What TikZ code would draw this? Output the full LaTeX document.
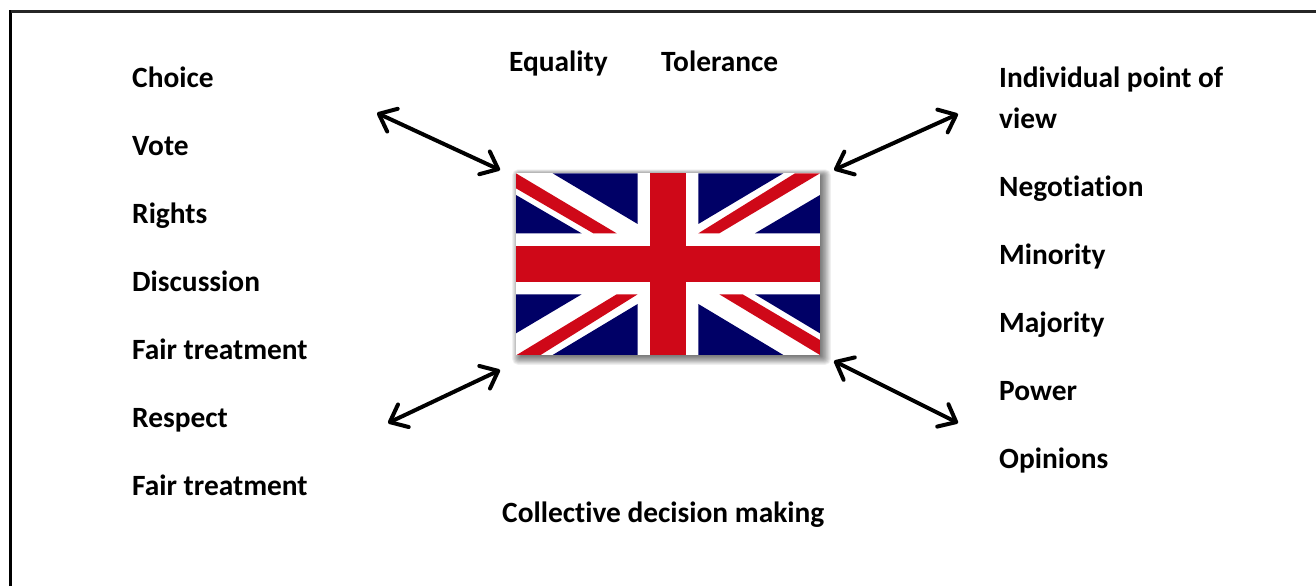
\documentclass[tikz,border=0pt]{standalone}
\usepackage{fontspec}
\setmainfont{Carlito}[Ligatures=NoCommon]
\usetikzlibrary{arrows.meta}
\definecolor{flagblue}{RGB}{0,0,102}
\definecolor{flagred}{RGB}{207,8,24}
\tikzset{
  lbl/.style={anchor=base west,inner sep=0pt,font=\fontsize{29.4}{29.4}\selectfont\bfseries,text=black},
  dbl/.style={line width=4pt,line cap=round,{Straight Barb[length=15pt,width=25pt,line width=4pt,round]}-{Straight Barb[length=15pt,width=25pt,line width=4pt,round]}},
  navy/.style={fill=flagblue},
  redbar/.style={fill=flagred}
}
\begin{document}
\begin{tikzpicture}[x=1pt,y=-1pt]
\useasboundingbox (0,0) rectangle (1316,586);
\fill[white] (0,0) rectangle (1316,586);
% frame
\coordinate (fa) at (10.5,586);
\coordinate (fb) at (10.5,11.5);
\coordinate (fc) at (1316,11.5);
\draw[line width=2.6pt,black] (fa) -- (10.5,10.3);
\draw[line width=2.2pt,black!85] (fb) -- (fc);
% left column
\node[lbl] (l1) at (132,87.7) {Choice};
\node[lbl] (l2) at (132,155.7) {Vote};
\node[lbl] (l3) at (132,223.7) {Rights};
\node[lbl] (l4) at (132,291.7) {Discussion};
\node[lbl] (l5) at (132,359.7) {Fair treatment};
\node[lbl] (l6) at (132,427.7) {Respect};
\node[lbl] (l7) at (132,495.7) {Fair treatment};
% top and bottom
\node[lbl] (t1) at (509,71.7) {Equality};
\node[lbl] (t2) at (661,71.7) {Tolerance};
\node[lbl] (b1) at (502,522.7) {Collective decision making};
% right column
\node[lbl] (r1) at (999,87.7) {Individual point of};
\node[lbl] (r1b) at (999,128.7) {view};
\node[lbl] (r2) at (999,196.7) {Negotiation};
\node[lbl] (r3) at (999,264.7) {Minority};
\node[lbl] (r4) at (999,332.7) {Majority};
\node[lbl] (r5) at (999,400.7) {Power};
\node[lbl] (r6) at (999,468.7) {Opinions};
% flag shadow
\foreach \i in {0,...,11}{
  \fill[black,opacity=0.055,rounded corners=\i*0.5pt] (521-\i*0.8,176-\i*0.6) rectangle (821+\i*0.9,356+\i*0.8);
}
% flag
\begin{scope}[shift={(500,160)},x=0.3333pt,y=-0.3333pt]
\fill[white] (48,40) rectangle (960,585);
\path[navy] (158,40)--(413,40)--(413,192)--cycle;
\path[navy] (48,105)--(48,220)--(245,220)--cycle;
\path[navy] (595,40)--(850,40)--(595,192)--cycle;
\path[navy] (960,105)--(960,220)--(765,220)--cycle;
\path[navy] (48,403)--(245,403)--(48,520)--cycle;
\path[navy] (413,432)--(413,585)--(158,585)--cycle;
\path[navy] (765,403)--(960,403)--(960,520)--cycle;
\path[navy] (595,432)--(850,585)--(595,585)--cycle;
\path[redbar] (48,40)--(48,85)--(280,220)--(350,220)--cycle;
\path[redbar] (885,40)--(960,40)--(658,220)--(595,220)--cycle;
\path[redbar] (350,403)--(413,403)--(122,585)--(50,585)--cycle;
\path[redbar] (658,403)--(728,403)--(960,540)--(960,585)--cycle;
\path[redbar] (450,40) rectangle (558,585);
\path[redbar] (48,258) rectangle (960,367);
\end{scope}
% arrows
\coordinate (a1s) at (377,113); \coordinate (a1e) at (500,170);
\coordinate (a2s) at (958,114); \coordinate (a2e) at (834,170);
\coordinate (a3s) at (388,423); \coordinate (a3e) at (500,370);
\coordinate (a4s) at (958,423); \coordinate (a4e) at (834,361);
\draw[dbl] (a1s) -- (a1e);
\draw[dbl] (a2s) -- (a2e);
\draw[dbl] (a3s) -- (a3e);
\draw[dbl] (a4s) -- (a4e);
\end{tikzpicture}
\end{document}
